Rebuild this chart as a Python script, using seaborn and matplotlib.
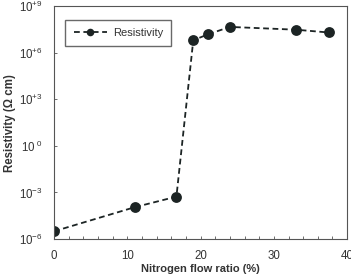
import numpy as np
import pandas as pd
import matplotlib
matplotlib.use("Agg")
import matplotlib.pyplot as plt
import seaborn as sns
from matplotlib.ticker import FixedLocator, NullLocator, MultipleLocator

# data
flow_ratio = [0, 11, 16.7, 19, 21, 24, 33, 37.5]
log_resistivity = [-5.5, -3.95, -3.27, 6.8, 7.18, 7.66, 7.48, 7.3]
resistivity = [10 ** v for v in log_resistivity]
ytick_exps = [-6, -3, 0, 3, 6, 9]
ytick_labels = [r"$10^{-6}$", r"$10^{-3}$", r"$10^{\ 0}$", r"$10^{+3}$", r"$10^{+6}$", r"$10^{+9}$"]
xticks = [0, 10, 20, 30, 40]

sns.set_theme(style="white")
plt.rcParams['font.family'] = ['Liberation Sans', 'DejaVu Sans']
plt.rcParams['mathtext.fontset'] = 'custom'
plt.rcParams['mathtext.rm'] = 'Liberation Sans'
plt.rcParams['mathtext.default'] = 'regular'

df = pd.DataFrame({"x": flow_ratio, "y": resistivity})

fig = plt.figure(figsize=(3.51, 2.77), dpi=100)
ax = fig.add_axes([0.154, 0.137, 0.835, 0.841])

sns.lineplot(data=df, x="x", y="y", ax=ax, sort=False, color="#1c2424",
             marker="o", markersize=7.8, markeredgewidth=0, linestyle=(0, (3.2, 2)),
             linewidth=1.3, label="Resistivity")

ax.set_yscale("log")
ax.set_ylim(1e-6, 1e9)
ax.set_xlim(0, 40)
ax.yaxis.set_major_locator(FixedLocator([10.0 ** e for e in ytick_exps]))
ax.yaxis.set_minor_locator(NullLocator())
ax.set_yticklabels(ytick_labels)
ax.set_xticks(xticks)
ax.xaxis.set_minor_locator(MultipleLocator(2))

ax.tick_params(axis="both", which="both", direction="in", length=2.5, width=0.6,
               colors="#555555", labelcolor="#333333", labelsize=8.3)
ax.tick_params(axis="y", which="major", left=True, pad=8)
ax.tick_params(axis="x", which="both", bottom=True, pad=8)

for side in ["left", "right", "top", "bottom"]:
    ax.spines[side].set_visible(True)
    ax.spines[side].set_color("#555555")
    ax.spines[side].set_linewidth(0.8)

ax.set_xlabel("Nitrogen flow ratio (%)", fontsize=8, fontweight="bold", color="#333333", labelpad=1.5)
ax.set_ylabel("Resistivity (Ω cm)", fontsize=8.3, fontweight="bold", color="#333333", labelpad=2)

leg = ax.legend(loc="upper left", bbox_to_anchor=(0.02, 0.965), fontsize=8, frameon=True,
                fancybox=False, shadow=False, handlelength=3.0, borderpad=0.75,
                handletextpad=0.5, markerscale=0.7, labelcolor="#333333")
leg.get_frame().set_edgecolor("#444444")
leg.get_frame().set_linewidth(1.0)

fig.savefig("out.png", dpi=100)
